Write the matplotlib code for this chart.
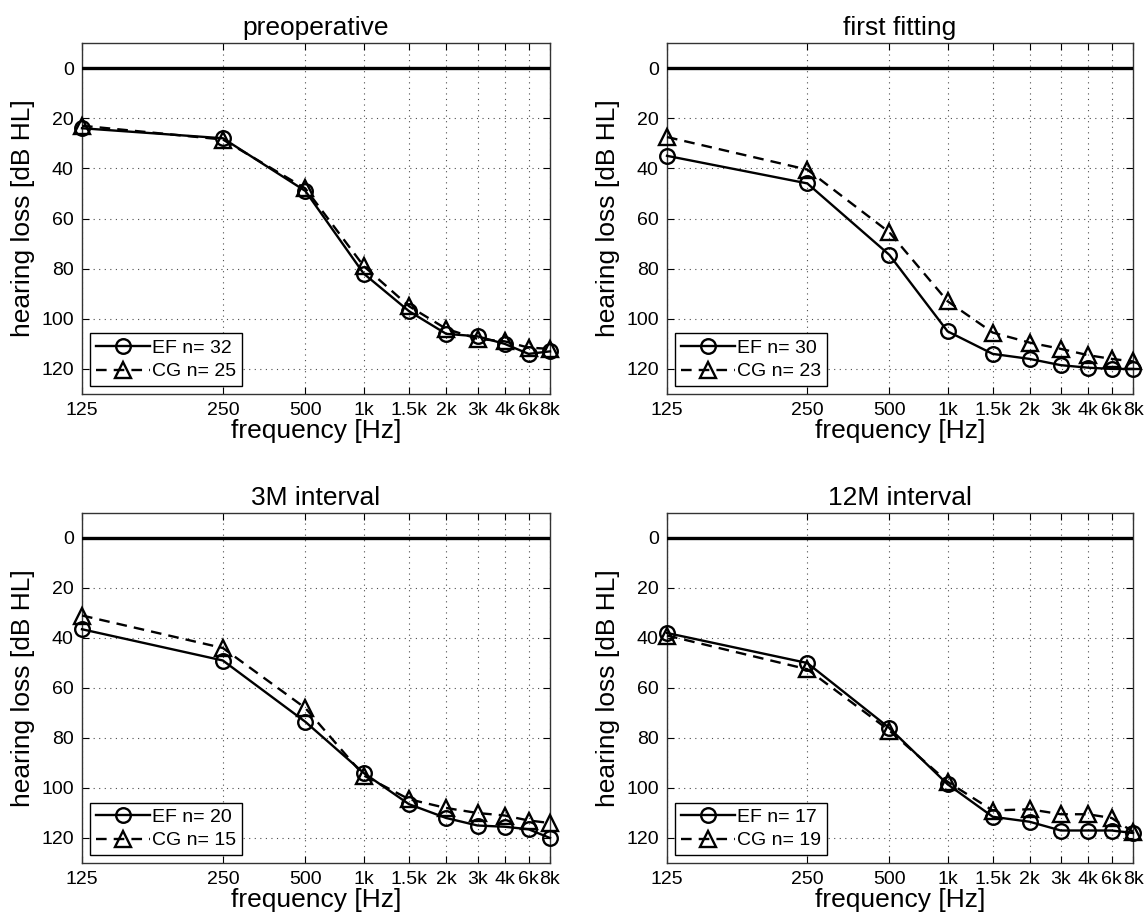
import numpy as np
import matplotlib
matplotlib.use("Agg")
import matplotlib.pyplot as plt
from matplotlib.ticker import NullLocator, FixedLocator, FixedFormatter

plt.rcParams['font.family'] = ['Liberation Sans', 'DejaVu Sans']

freq_labels = ['125', '250', '500', '1k', '1.5k', '2k', '3k', '4k', '6k', '8k']
y_ticks = [0, 20, 40, 60, 80, 100, 120]

titles = ['preoperative', 'first fitting', '3M interval', '12M interval']
ef_n = [32, 30, 20, 17]
cg_n = [25, 23, 15, 19]

# hearing loss in dB HL
ef_preop = [24, 28, 49, 82, 97, 106, 107, 110, 114, 113]
cg_preop = [23, 28.5, 48, 79, 95, 104, 108, 109, 111.5, 112]
ef_first = [35, 46, 74.5, 105, 114, 116, 118.5, 119.5, 120, 120]
cg_first = [27.5, 40.5, 65.5, 93, 105.5, 109.5, 112, 114.5, 116, 117]
ef_3m = [36.5, 49, 73.5, 94, 106.5, 112, 115, 115.5, 116.5, 120]
cg_3m = [31, 44, 68, 95, 104.5, 108, 110, 111, 113, 114]
ef_12m = [38, 50, 76, 98.5, 111.5, 113.5, 117, 117, 117, 118]
cg_12m = [39, 52.5, 77, 97.5, 109, 108.5, 110.5, 110.5, 112, 117.5]

ef_all = [ef_preop, ef_first, ef_3m, ef_12m]
cg_all = [cg_preop, cg_first, cg_3m, cg_12m]

W, H = 1146, 919
fig = plt.figure(figsize=(W / 100, H / 100), dpi=100)
boxes = [(82, 43, 550, 394), (667, 43, 1133, 394),
         (82, 513, 550, 863), (667, 513, 1133, 863)]

xpos = np.arange(1, len(freq_labels) + 1)

for k in range(4):
    x0, y0, x1, y1 = boxes[k]
    ax = fig.add_axes([x0 / W, 1 - y1 / H, (x1 - x0) / W, (y1 - y0) / H])
    ax.set_xscale('log')
    ax.axhline(0, color='black', lw=2.4, zorder=3)
    ax.plot(xpos, ef_all[k], '-', color='black', lw=1.7, marker='o', ms=10.5,
            mfc='none', mec='black', mew=1.7, label=f'EF n= {ef_n[k]}',
            zorder=4, clip_on=False)
    ax.plot(xpos, cg_all[k], '--', color='black', lw=1.7, dashes=(4.5, 3),
            marker='^', ms=11.5, mfc='none', mec='black', mew=1.7,
            label=f'CG n= {cg_n[k]}', zorder=4, clip_on=False)
    ax.set_xlim(1, 10)
    ax.set_ylim(130, -10)
    ax.xaxis.set_major_locator(FixedLocator(xpos))
    ax.xaxis.set_major_formatter(FixedFormatter(freq_labels))
    ax.xaxis.set_minor_locator(NullLocator())
    ax.set_yticks(y_ticks)
    ax.grid(True, which='major', linestyle=(0, (1, 4)), color='black', lw=0.8, alpha=0.7)
    ax.tick_params(direction='in', top=True, right=True, length=5, labelsize=14, pad=6)
    for s in ax.spines.values():
        s.set_linewidth(1.0)
        s.set_color('#333333')
    ax.set_title(titles[k], fontsize=19, pad=6)
    ax.set_xlabel('frequency [Hz]', fontsize=19, labelpad=0)
    ax.set_ylabel('hearing loss [dB HL]', fontsize=19, labelpad=4)
    leg = ax.legend(loc='lower left', fontsize=14, frameon=True, fancybox=False,
                    edgecolor='black', framealpha=1, borderaxespad=0.4,
                    handlelength=2.8, handletextpad=0.1, borderpad=0.3,
                    labelspacing=0.3)
    leg.get_frame().set_linewidth(1.0)

fig.savefig('out.png', dpi=100)
